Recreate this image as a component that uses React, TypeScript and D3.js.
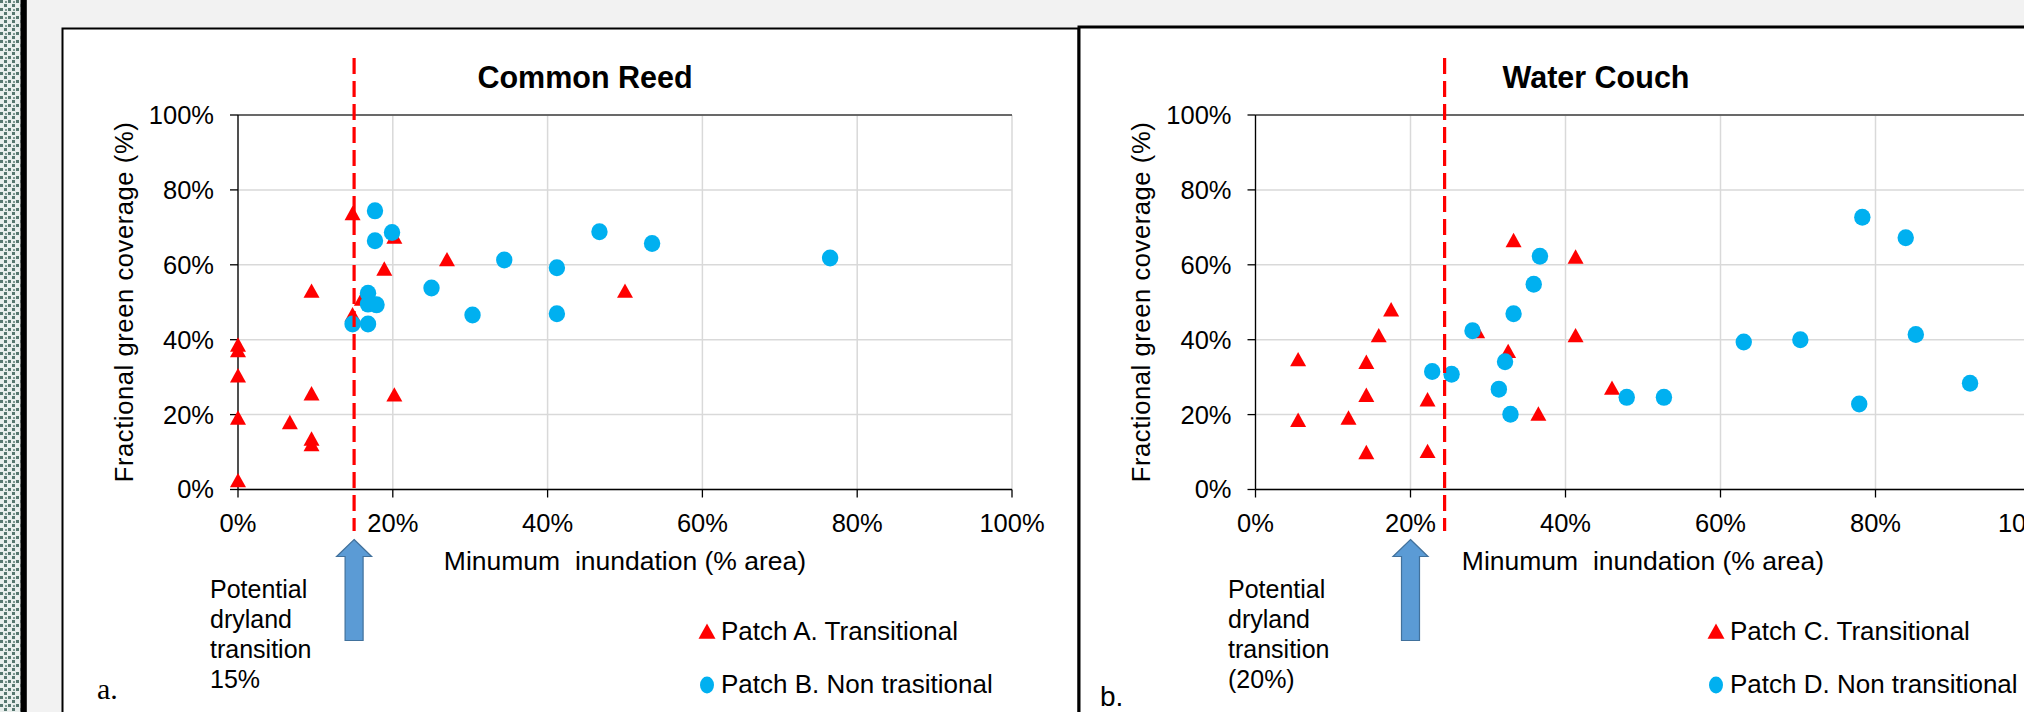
import React from 'react';
import * as d3 from 'd3';

const W = 2024;
const H = 712;

const tickValues = [0, 20, 40, 60, 80, 100];

// Panel a — Common Reed
const reedTransX = [14.8, 20.2, 27.0, 18.9, 9.5, 50.0, 16.0, 14.8, 0, 0, 0, 0, 0, 9.5, 20.2, 6.7, 9.5, 9.5];
const reedTransY = [73.6, 67.3, 61.3, 58.8, 52.9, 52.9, 50.8, 46.6, 38.5, 37.0, 30.3, 19.0, 2.3, 25.5, 25.2, 17.8, 13.4, 11.9];
const reedNonX = [17.7, 19.9, 17.7, 46.7, 53.5, 34.4, 41.2, 25.0, 16.8, 16.8, 17.9, 30.3, 41.2, 14.8, 16.8, 76.5];
const reedNonY = [74.4, 68.6, 66.4, 68.8, 65.7, 61.3, 59.2, 53.8, 52.4, 49.5, 49.3, 46.6, 46.9, 44.2, 44.2, 61.8];

// Panel b — Water Couch
const couchTransX = [33.3, 41.3, 17.5, 15.9, 41.3, 28.6, 32.6, 5.5, 14.3, 14.3, 22.2, 46.0, 5.5, 12.0, 36.5, 14.3, 22.2];
const couchTransY = [66.4, 62.0, 47.9, 41.0, 41.0, 42.1, 36.8, 34.6, 33.9, 25.1, 23.9, 27.0, 18.4, 19.0, 20.1, 9.8, 10.1];
const couchNonX = [36.7, 35.9, 33.3, 28.0, 63.0, 70.3, 32.2, 22.8, 25.3, 31.4, 47.9, 52.7, 32.9, 78.3, 83.9, 85.2, 77.9, 92.2];
const couchNonY = [62.3, 54.8, 46.9, 42.4, 39.4, 40.0, 34.1, 31.5, 30.8, 26.8, 24.6, 24.6, 20.1, 72.7, 67.2, 41.4, 22.8, 28.4];

const thresholdA = 15;
const thresholdB = 24.4;
const arrowAtA = 15;
const arrowAtB = 20;

const RED = '#ff0000';
const BLUE = '#00b0f0';
const FONT = 'Liberation Sans, Arial, sans-serif';

const yScale = d3.scaleLinear().domain([0, 100]).range([489.5, 115]);

function tri(cx: number, cy: number, s = 8) {
  return `M${cx},${cy - s} L${cx + s},${cy + s * 0.8} L${cx - s},${cy + s * 0.8} Z`;
}

type PanelProps = {
  x0: number;
  x1: number;
  title: string;
  titleX: number;
  yTitleX: number;
  tx: number[];
  ty: number[];
  nx: number[];
  ny: number[];
  threshold: number;
  arrowAt: number;
  noteX: number;
  noteLines: string[];
  legendX: number;
  legendLabels: string[];
  clipId: string;
};

function Panel(p: PanelProps) {
  const x = d3.scaleLinear().domain([0, 100]).range([p.x0, p.x1]);
  const yT = yScale(100);
  const yB = yScale(0);
  const fmt = (v: number) => `${v}%`;
  const ax = x(p.arrowAt);
  const dx = x(p.threshold);
  return (
    <g fontFamily={FONT}>
      {tickValues.map((v) => (
        <line key={'gy' + v} x1={p.x0} x2={p.x1} y1={yScale(v)} y2={yScale(v)} stroke="#d9d9d9" strokeWidth={1.5} />
      ))}
      {tickValues.map((v) => (
        <line key={'gx' + v} x1={x(v)} x2={x(v)} y1={yT} y2={yB} stroke="#d9d9d9" strokeWidth={1.5} />
      ))}
      <line x1={p.x0} x2={p.x1} y1={yT} y2={yT} stroke="#404040" strokeWidth={1.5} />
      <line x1={p.x0} x2={p.x0} y1={yT} y2={yB} stroke="#000" strokeWidth={1.3} />
      <line x1={p.x0} x2={p.x1} y1={yB} y2={yB} stroke="#000" strokeWidth={1.3} />
      {tickValues.map((v) => (
        <line key={'ty' + v} x1={p.x0 - 8} x2={p.x0} y1={yScale(v)} y2={yScale(v)} stroke="#000" strokeWidth={1.3} />
      ))}
      {tickValues.map((v) => (
        <line key={'tx' + v} x1={x(v)} x2={x(v)} y1={yB} y2={yB + 8} stroke="#000" strokeWidth={1.3} />
      ))}
      {tickValues.map((v) => (
        <text key={'ly' + v} x={p.x0 - 24} y={yScale(v)} dy="0.35em" textAnchor="end" fontSize={25.5} fill="#000">
          {fmt(v)}
        </text>
      ))}
      {tickValues.map((v) => (
        <text key={'lx' + v} x={x(v)} y={532} textAnchor="middle" fontSize={25.5} fill="#000">
          {fmt(v)}
        </text>
      ))}
      <text x={p.titleX} y={88} textAnchor="middle" fontSize={30.5} fontWeight="bold" fill="#000">
        {p.title}
      </text>
      <text x={(p.x0 + p.x1) / 2} y={570} textAnchor="middle" fontSize={26.5} fill="#000" style={{ whiteSpace: 'pre' }}>
        {'Minumum  inundation (% area)'}
      </text>
      <text
        transform={`translate(${p.yTitleX},${(yT + yB) / 2}) rotate(-90)`}
        textAnchor="middle"
        dy="0.35em"
        fontSize={25.5}
        textLength={360}
        lengthAdjust="spacing"
        fill="#000"
      >
        Fractional green coverage (%)
      </text>
      <g clipPath={`url(#${p.clipId})`}>
        {p.tx.map((v, i) => (
          <path key={'t' + i} d={tri(x(v), yScale(p.ty[i]))} fill={RED} />
        ))}
        {p.nx.map((v, i) => (
          <ellipse key={'c' + i} cx={x(v)} cy={yScale(p.ny[i])} rx={8.2} ry={8.5} fill={BLUE} />
        ))}
      </g>
      <line x1={dx} x2={dx} y1={58} y2={531} stroke={RED} strokeWidth={3.2} strokeDasharray="16,7" />
      <path
        d={`M${ax},${yB + 50} L${ax + 17.5},${yB + 67} L${ax + 9},${yB + 67} L${ax + 9},${yB + 151} L${ax - 9},${yB + 151} L${ax - 9},${yB + 67} L${ax - 17.5},${yB + 67} Z`}
        fill="#5b9bd5"
        stroke="#41719c"
        strokeWidth={1.2}
      />
      {p.noteLines.map((s, i) => (
        <text key={'n' + i} x={p.noteX} y={598 + i * 30} fontSize={25} fill="#000">
          {s}
        </text>
      ))}
      <path d={tri(p.legendX, 632, 8.5)} fill={RED} />
      <text x={p.legendX + 14} y={640} fontSize={26} fill="#000">
        {p.legendLabels[0]}
      </text>
      <ellipse cx={p.legendX} cy={685} rx={7} ry={8.5} fill={BLUE} />
      <text x={p.legendX + 14} y={693} fontSize={26} fill="#000">
        {p.legendLabels[1]}
      </text>
    </g>
  );
}

export default function App() {
  return (
    <div style={{ position: 'absolute', left: 0, top: 0, width: W, height: H }}>
      <svg width={W} height={H} viewBox={`0 0 ${W} ${H}`} style={{ display: 'block' }}>
        <defs>
          <pattern id="hatch" width="8" height="8" patternUnits="userSpaceOnUse">
            <rect width="8" height="8" fill="#e8eeec" />
            <rect x="0" y="0" width="3" height="3" fill="#56776f" />
            <rect x="4" y="4" width="3" height="3" fill="#56776f" />
            <rect x="5" y="1" width="2" height="2" fill="#7d9891" />
          </pattern>
          <clipPath id="clipA">
            <rect x={62} y={28} width={1016} height={684} />
          </clipPath>
          <clipPath id="clipB">
            <rect x={1080} y={28} width={960} height={684} />
          </clipPath>
        </defs>
        <rect x={0} y={0} width={W} height={H} fill="#f2f2f2" />
        <rect x={0} y={0} width={20.5} height={H} fill="url(#hatch)" />
        <rect x={20.5} y={0} width={6.3} height={H} fill="#000" />
        <rect x={62.5} y={28.5} width={1016} height={700} fill="#fff" stroke="#000" strokeWidth={2} />
        <rect x={1079} y={27} width={1000} height={700} fill="#fff" stroke="#000" strokeWidth={3} />
        <Panel
          x0={238}
          x1={1012}
          title="Common  Reed"
          titleX={585}
          yTitleX={124}
          tx={reedTransX}
          ty={reedTransY}
          nx={reedNonX}
          ny={reedNonY}
          threshold={thresholdA}
          arrowAt={arrowAtA}
          noteX={210}
          noteLines={['Potential', 'dryland', 'transition', '15%']}
          legendX={707}
          legendLabels={['Patch A. Transitional', 'Patch B. Non trasitional']}
          clipId="clipA"
        />
        <Panel
          x0={1255.5}
          x1={2030.5}
          title="Water Couch"
          titleX={1596}
          yTitleX={1141}
          tx={couchTransX}
          ty={couchTransY}
          nx={couchNonX}
          ny={couchNonY}
          threshold={thresholdB}
          arrowAt={arrowAtB}
          noteX={1228}
          noteLines={['Potential', 'dryland', 'transition', '(20%)']}
          legendX={1716}
          legendLabels={['Patch C. Transitional', 'Patch D. Non transitional']}
          clipId="clipB"
        />
        <text x={97} y={699} fontFamily="Liberation Serif, Times New Roman, serif" fontSize={30} fill="#000">
          a.
        </text>
        <text x={1100} y={706} fontFamily={FONT} fontSize={28} fill="#000">
          b.
        </text>
      </svg>
    </div>
  );
}
